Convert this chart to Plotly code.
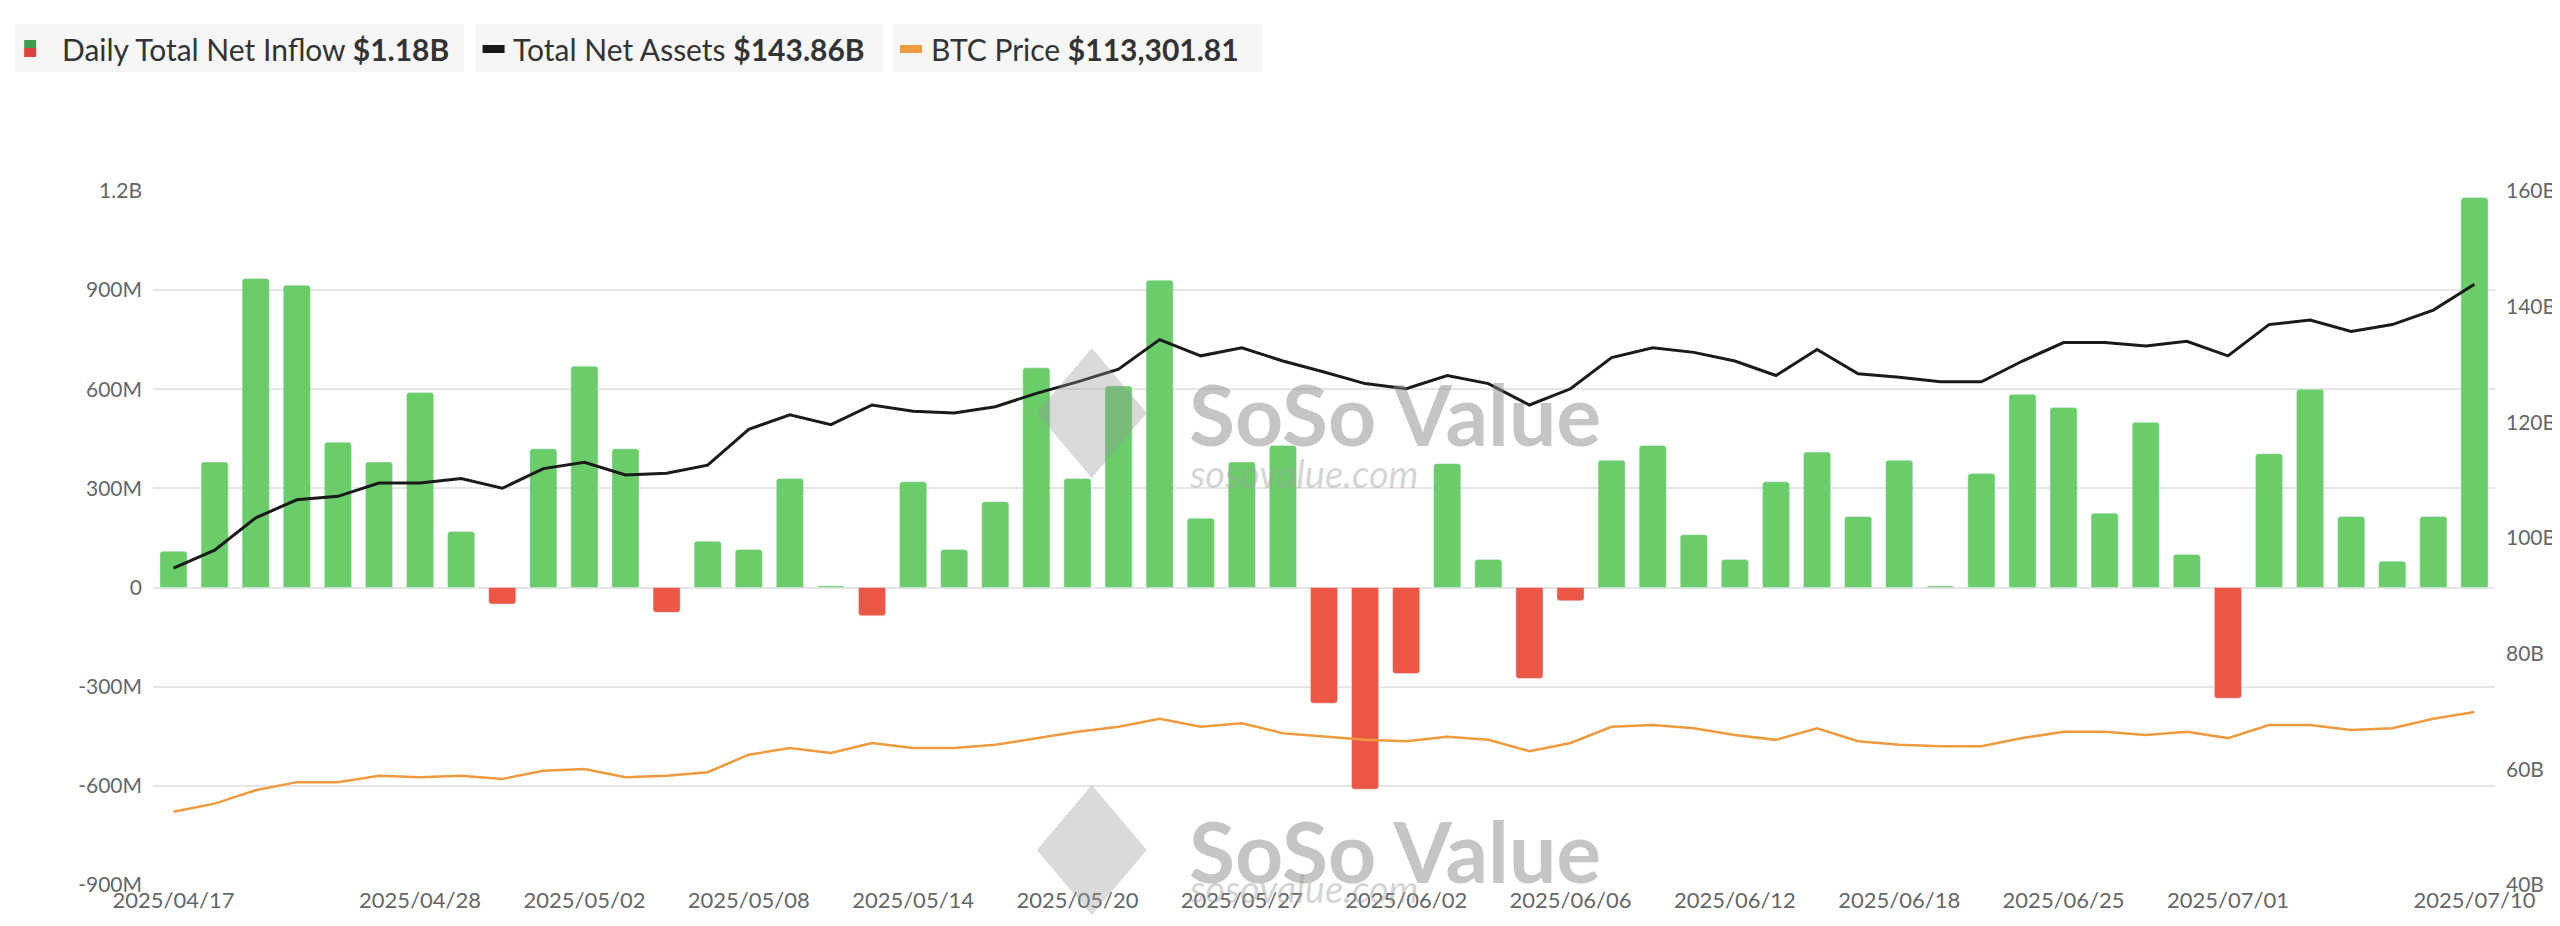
import plotly.graph_objects as go

# trading days shown on the x axis
dates = ['2025/04/17', '2025/04/21', '2025/04/22', '2025/04/23', '2025/04/24', '2025/04/25',
         '2025/04/28', '2025/04/29', '2025/04/30', '2025/05/01', '2025/05/02',
         '2025/05/05', '2025/05/06', '2025/05/07', '2025/05/08', '2025/05/09',
         '2025/05/12', '2025/05/13', '2025/05/14', '2025/05/15', '2025/05/16',
         '2025/05/19', '2025/05/20', '2025/05/21', '2025/05/22', '2025/05/23',
         '2025/05/27', '2025/05/28', '2025/05/29', '2025/05/30',
         '2025/06/02', '2025/06/03', '2025/06/04', '2025/06/05', '2025/06/06',
         '2025/06/09', '2025/06/10', '2025/06/11', '2025/06/12', '2025/06/13',
         '2025/06/16', '2025/06/17', '2025/06/18', '2025/06/20',
         '2025/06/23', '2025/06/24', '2025/06/25', '2025/06/26', '2025/06/27',
         '2025/06/30', '2025/07/01', '2025/07/02', '2025/07/03',
         '2025/07/07', '2025/07/08', '2025/07/09', '2025/07/10']

# daily total net inflow, millions USD
net_inflow = [110, 380, 935, 915, 440, 380, 590, 170, -50, 420, 670, 420, -75, 140, 115, 330, 5, -85,
              320, 115, 260, 665, 330, 610, 930, 210, 380, 430, -350, -610, -260, 375, 85, -275, -40,
              385, 430, 160, 85, 320, 410, 215, 385, 5, 345, 585, 545, 225, 500, 100, -335, 405, 600,
              215, 80, 215, 1180]

# total net assets, billions USD
net_assets = [94.8, 97.9, 103.5, 106.6, 107.2, 109.5, 109.5, 110.3, 108.6, 112.0, 113.1, 110.9, 111.2,
              112.6, 118.8, 121.3, 119.6, 123.0, 121.9, 121.6, 122.7, 125.0, 127.0, 129.2, 134.3, 131.5,
              132.9, 130.6, 128.7, 126.7, 125.8, 128.1, 126.7, 123.0, 125.8, 131.2, 132.9, 132.1, 130.6,
              128.1, 132.6, 128.4, 127.8, 127.0, 127.0, 130.6, 133.8, 133.8, 133.2, 134.0, 131.5, 136.9,
              137.7, 135.7, 136.9, 139.4, 143.86]

# BTC price, thousands USD
btc_price = [85.0, 87.3, 91.1, 93.4, 93.4, 95.2, 94.8, 95.2, 94.3, 96.6, 97.1, 94.8, 95.2, 96.2, 101.2,
             103.1, 101.7, 104.5, 103.1, 103.1, 104.0, 105.9, 107.7, 109.1, 111.4, 109.1, 110.1, 107.3,
             106.3, 105.4, 105.0, 106.3, 105.4, 102.2, 104.5, 109.1, 109.6, 108.7, 106.8, 105.4, 108.7,
             105.0, 104.0, 103.6, 103.6, 105.9, 107.7, 107.7, 106.8, 107.7, 105.9, 109.6, 109.6, 108.2,
             108.7, 111.4, 113.3]

tick_dates = ['2025/04/17', '2025/04/28', '2025/05/02', '2025/05/08', '2025/05/14', '2025/05/20',
              '2025/05/27', '2025/06/02', '2025/06/06', '2025/06/12', '2025/06/18', '2025/06/25',
              '2025/07/01', '2025/07/10']
left_vals = [-900, -600, -300, 0, 300, 600, 900, 1200]
left_text = ['-900M', '-600M', '-300M', '0', '300M', '600M', '900M', '1.2B']
right_vals = [40, 60, 80, 100, 120, 140, 160]
right_text = ['40B', '60B', '80B', '100B', '120B', '140B', '160B']

GREEN = '#6ACD6A'
RED = '#EB5645'
FONT = 'Lato'

W, H = 2560, 926
L, R, T, B = 145, 70, 183, 49
PW, PH = W - L - R, H - T - B


def px(x):
    return (x - L) / PW


def py(y):
    return (H - B - y) / PH


fig = go.Figure()

fig.add_trace(go.Bar(x=dates, y=net_inflow,
                     marker=dict(color=[GREEN if v >= 0 else RED for v in net_inflow],
                                 cornerradius=3),
                     name='Daily Total Net Inflow'))
fig.add_trace(go.Scatter(x=dates, y=net_assets, yaxis='y2', mode='lines',
                         line=dict(color='#1a1a1a', width=3), name='Total Net Assets'))
fig.add_trace(go.Scatter(x=dates, y=btc_price, yaxis='y3', mode='lines',
                         line=dict(color='#F09A3E', width=2.5), name='BTC Price'))

fig.update_layout(
    width=W, height=H,
    margin=dict(l=L, r=R, t=T, b=B),
    paper_bgcolor='white', plot_bgcolor='white',
    showlegend=False, bargap=0.34,
    font=dict(family=FONT, size=21, color='#666'),
    xaxis=dict(type='category', tickvals=tick_dates, ticktext=tick_dates, showgrid=False,
               showline=False, ticks='', tickfont=dict(size=22, color='#666')),
    yaxis=dict(range=[-900, 1200], tickvals=left_vals, ticktext=left_text,
               gridcolor='#e6e6e6', gridwidth=2, zeroline=False, ticks='', ticklabelstandoff=10),
    yaxis2=dict(range=[40, 160], tickvals=right_vals, ticktext=right_text, overlaying='y',
                side='right', showgrid=False, zeroline=False, ticklabelstandoff=10),
    yaxis3=dict(range=[64.2, 261.2], overlaying='y', visible=False),
)

# legend chips drawn as boxes above the plot
chips = [
    (7, 456, 52, 'Daily Total Net Inflow', '$1.18B'),
    (468, 876, 503, 'Total Net Assets', '$143.86B'),
    (886, 1256, 922, 'BTC Price', '$113,301.81'),
]
for x0, x1, tx, label, value in chips:
    fig.add_shape(type='rect', xref='paper', yref='paper', x0=px(x0), x1=px(x1),
                  y0=py(16), y1=py(64), fillcolor='#f6f6f6', line=dict(width=0), layer='below')
    fig.add_annotation(xref='paper', yref='paper', x=px(tx), y=py(41), xanchor='left',
                       yanchor='middle', showarrow=False,
                       text=f"{label} <b>{value}</b>",
                       font=dict(family=FONT, size=30, color='#333'))

fig.add_shape(type='rect', xref='paper', yref='paper', x0=px(16), x1=px(28), y0=py(40),
              y1=py(32), fillcolor='#3f9c4e', line=dict(width=0))
fig.add_shape(type='rect', xref='paper', yref='paper', x0=px(16), x1=px(28), y0=py(49),
              y1=py(40), fillcolor='#d9453a', line=dict(width=0))
fig.add_shape(type='rect', xref='paper', yref='paper', x0=px(475), x1=px(497), y0=py(45),
              y1=py(37), fillcolor='#1a1a1a', line=dict(width=0))
fig.add_shape(type='rect', xref='paper', yref='paper', x0=px(893), x1=px(915), y0=py(45),
              y1=py(37), fillcolor='#F09A3E', line=dict(width=0))

# watermarks
for cy, sub in ((405, 465), (842, 880)):
    fig.add_annotation(xref='paper', yref='paper', x=px(1180), y=py(cy), xanchor='left',
                       yanchor='middle', showarrow=False, text='<b>SoSo Value</b>',
                       font=dict(family=FONT, size=84, color='rgba(140,140,140,0.5)'))
    fig.add_annotation(xref='paper', yref='paper', x=px(1180), y=py(sub), xanchor='left',
                       yanchor='middle', showarrow=False, text='<i>sosovalue.com</i>',
                       font=dict(family=FONT, size=38, color='rgba(160,160,160,0.45)'))
    fig.add_shape(type='path', xref='paper', yref='paper',
                  path=f"M {px(1030)} {py(cy)} L {px(1085)} {py(cy - 65)} L {px(1140)} {py(cy)} "
                       f"L {px(1085)} {py(cy + 65)} Z",
                  fillcolor='rgba(150,150,150,0.35)', line=dict(width=0))

fig.write_html("out.html")
